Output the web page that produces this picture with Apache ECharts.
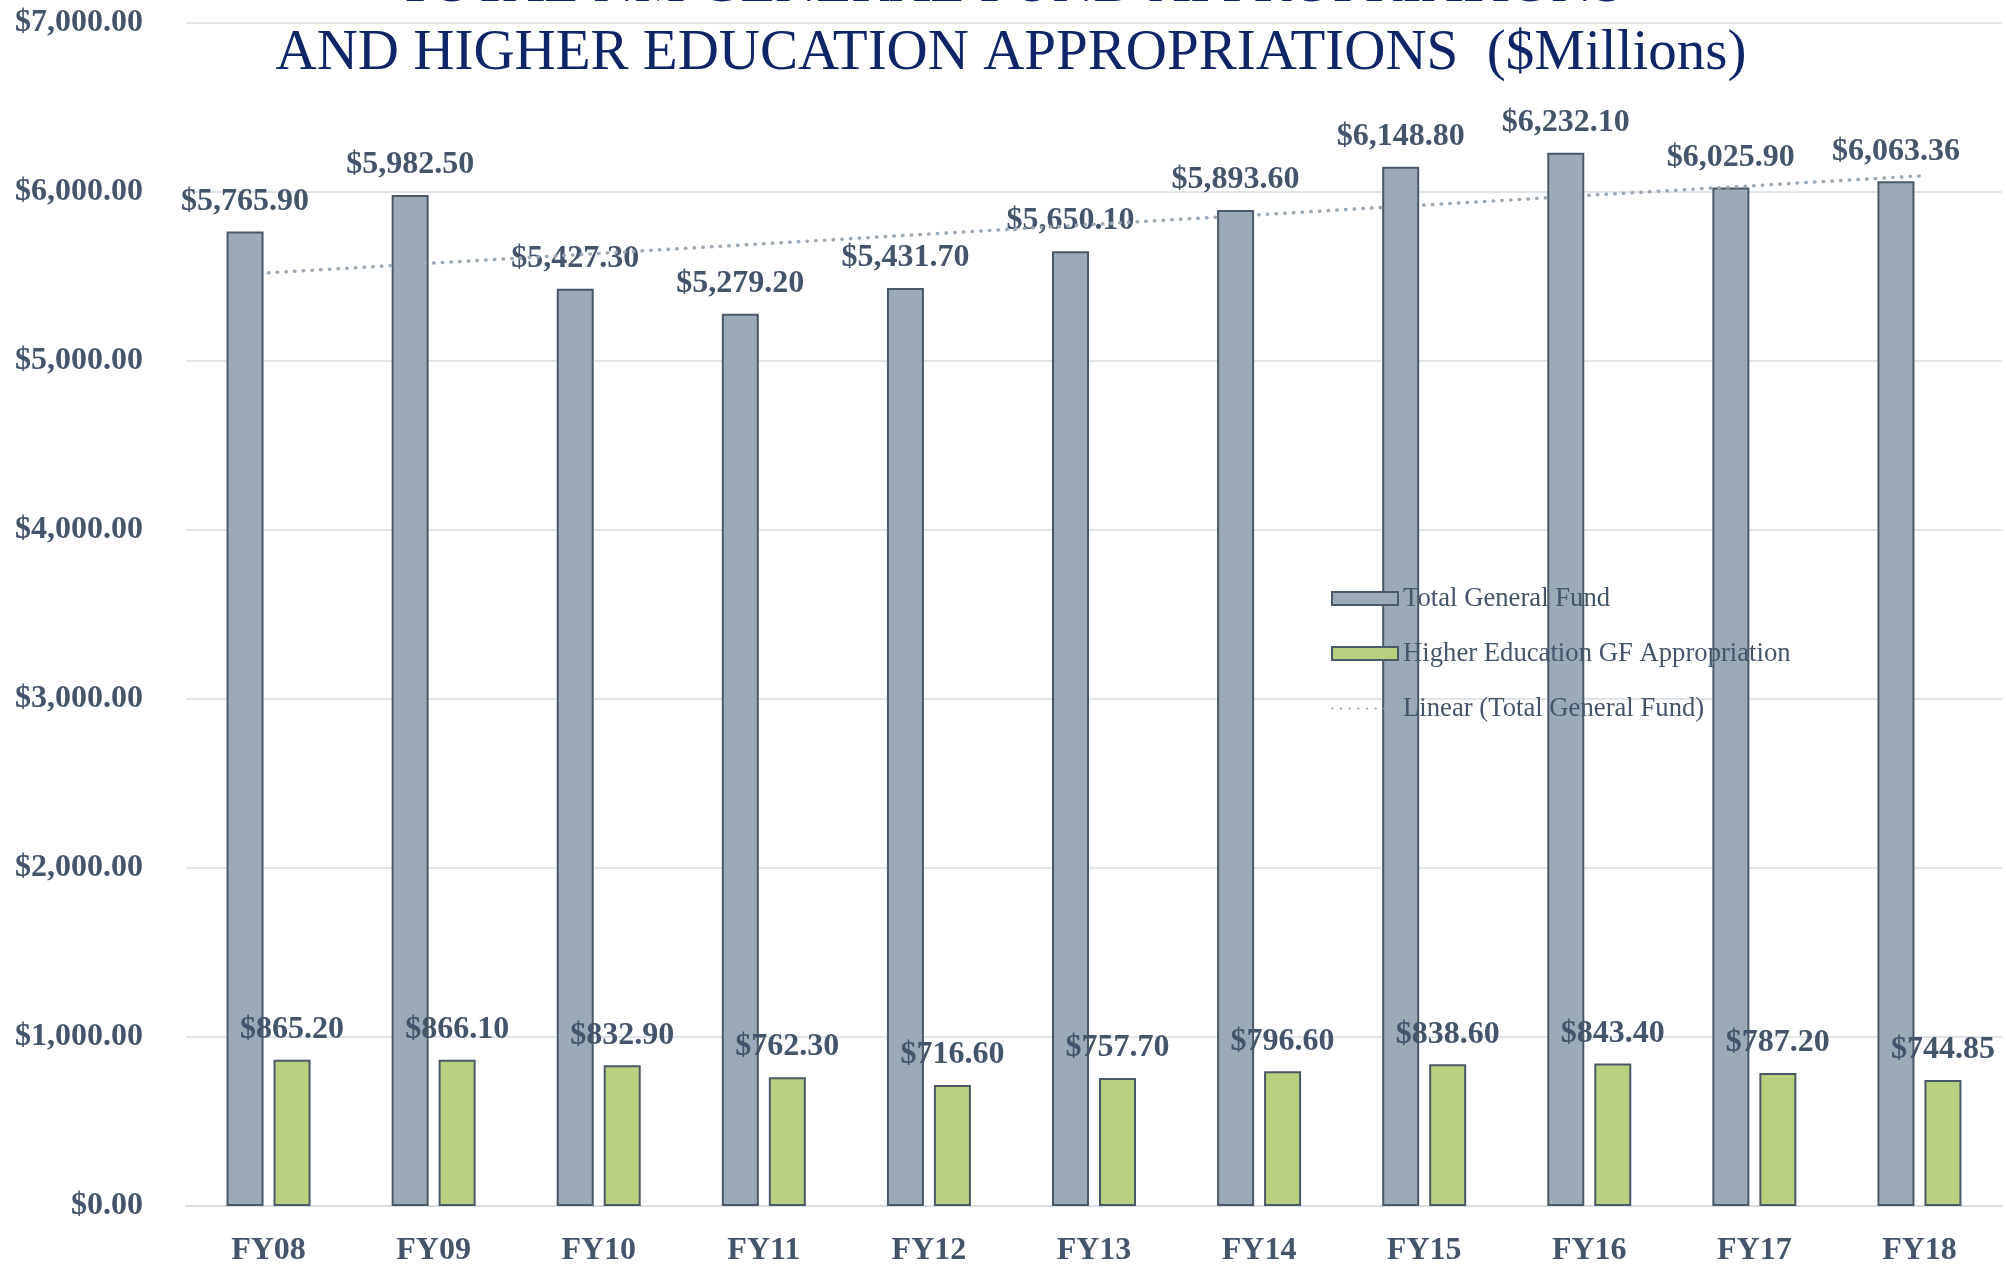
<!DOCTYPE html>
<html>
<head>
<meta charset="utf-8">
<script src="https://cdn.jsdelivr.net/npm/echarts@6/dist/echarts.min.js"></script>
<style>
  html, body { margin: 0; padding: 0; background: #fff; }
  #chart { width: 2006px; height: 1269px; }
</style>
</head>
<body>
<div id="chart"></div>
<script>
// data
const years = ['FY08', 'FY09', 'FY10', 'FY11', 'FY12', 'FY13', 'FY14', 'FY15', 'FY16', 'FY17', 'FY18'];
const totalGF = [5765.90, 5982.50, 5427.30, 5279.20, 5431.70, 5650.10, 5893.60, 6148.80, 6232.10, 6025.90, 6063.36];
const higherEd = [865.20, 866.10, 832.90, 762.30, 716.60, 757.70, 796.60, 838.60, 843.40, 787.20, 744.85];
// trend line end points (FY08 -> FY18), gaps bridged by connectNulls
const trendLine = [5522, null, null, null, null, null, null, null, null, null, 6095];
const yTicks = [0, 1000, 2000, 3000, 4000, 5000, 6000, 7000];

const font = '"Liberation Serif", "DejaVu Serif", serif';
const textGray = '#44546A';
const edge = '#4A5968';

function money(v) {
    return '$' + Number(v).toLocaleString('en-US', { minimumFractionDigits: 2, maximumFractionDigits: 2 });
}

const chart = echarts.init(document.getElementById('chart'));
chart.setOption({
    animation: false,
    backgroundColor: '#fff',
    title: {
        text: 'TOTAL NM GENERAL FUND APPROPRIATIONS\nAND HIGHER EDUCATION APPROPRIATIONS  ($Millions)',
        left: 1006,
        top: -53,
        textAlign: 'center',
        textStyle: {
            fontFamily: font,
            fontWeight: 'normal',
            fontSize: 57,
            lineHeight: 68,
            color: '#0F2568',
        },
    },
    legend: {
        orient: 'vertical',
        left: 1326,
        top: 580,
        itemWidth: 66,
        itemHeight: 13,
        itemGap: 28,
        textStyle: { fontFamily: font, fontSize: 26.7, color: textGray },
        data: [
            { name: 'Total General Fund', icon: 'rect' },
            { name: 'Higher Education GF Appropriation', icon: 'rect' },
            { name: 'Linear (Total General Fund)', itemStyle: { opacity: 0 } },
        ],
    },
    grid: { left: 186, right: 4, top: 23, bottom: 63 },
    xAxis: {
        type: 'category',
        data: years,
        axisTick: { show: false },
        axisLine: { lineStyle: { color: '#D9DDE2', width: 2 } },
        axisLabel: {
            margin: 29,
            fontFamily: font,
            fontWeight: 'bold',
            fontSize: 32,
            color: textGray,
        },
    },
    yAxis: {
        type: 'value',
        min: yTicks[0],
        max: yTicks[yTicks.length - 1],
        interval: 1000,
        axisLine: { show: false },
        axisTick: { show: false },
        splitLine: { lineStyle: { color: '#E1E5EA', width: 2 } },
        axisLabel: {
            margin: 43,
            fontFamily: font,
            fontWeight: 'bold',
            fontSize: 32,
            color: textGray,
            formatter: money,
        },
    },
    series: [
        {
            name: 'Total General Fund',
            type: 'bar',
            data: totalGF,
            barWidth: 37,
            barGap: '27%',
            itemStyle: { color: '#9BAAB6', borderColor: edge, borderWidth: 2 },
            label: {
                show: true,
                position: 'top',
                distance: 14,
                fontFamily: font,
                fontWeight: 'bold',
                fontSize: 32,
                color: textGray,
                formatter: p => money(p.value),
            },
        },
        {
            name: 'Higher Education GF Appropriation',
            type: 'bar',
            data: higherEd,
            barWidth: 37,
            itemStyle: { color: '#B9D080', borderColor: edge, borderWidth: 2 },
            label: {
                show: true,
                position: 'top',
                distance: 14,
                fontFamily: font,
                fontWeight: 'bold',
                fontSize: 32,
                color: textGray,
                formatter: p => money(p.value),
            },
        },
        {
            name: 'Linear (Total General Fund)',
            type: 'line',
            data: trendLine,
            connectNulls: true,
            symbol: 'none',
            z: 5,
            itemStyle: { color: '#9BAAB6' },
            lineStyle: { color: '#9BAAB6', width: 3.5, type: [0.5, 8.2], cap: 'round' },
        },
    ],
});
</script>
</body>
</html>
